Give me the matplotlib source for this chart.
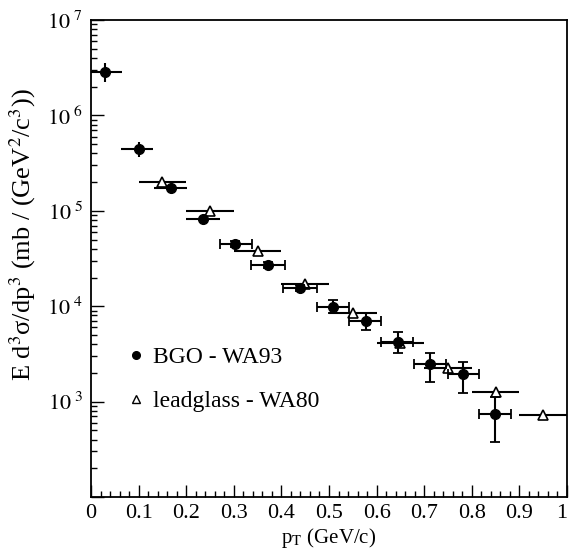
import math
import matplotlib
matplotlib.use('Agg')
import matplotlib.pyplot as plt
from matplotlib.ticker import MultipleLocator, LogLocator, FuncFormatter, NullFormatter
from matplotlib.lines import Line2D

plt.rcParams['font.family'] = ['Liberation Serif', 'DejaVu Serif']
plt.rcParams['mathtext.fontset'] = 'stix'

# BGO - WA93 (filled circles)
bgo_x = [0.03, 0.10, 0.167, 0.236, 0.303, 0.372, 0.44, 0.508, 0.578, 0.644, 0.712, 0.781, 0.849]
bgo_y = [2.85e6, 4.5e5, 1.75e5, 8.3e4, 4.5e4, 2.7e4, 1.57e4, 9.9e3, 7.0e3, 4.25e3, 2.45e3, 1.93e3, 7.4e2]
bgo_xlo = [0.0, 0.063, 0.132, 0.200, 0.270, 0.337, 0.404, 0.474, 0.541, 0.609, 0.679, 0.749, 0.815]
bgo_xhi = [0.065, 0.130, 0.202, 0.270, 0.339, 0.407, 0.474, 0.543, 0.610, 0.677, 0.746, 0.815, 0.882]
bgo_ylo = [2.24e6, 3.7e5, 1.62e5, 7.7e4, 4.2e4, 2.5e4, 1.46e4, 8.5e3, 5.6e3, 3.2e3, 1.62e3, 1.24e3, 374]
bgo_yhi = [3.55e6, 5.3e5, 1.89e5, 8.9e4, 4.8e4, 2.9e4, 1.68e4, 1.16e4, 8.4e3, 5.4e3, 3.2e3, 2.62e3, 1125]

# leadglass - WA80 (open triangles)
lg_x = [0.15, 0.25, 0.35, 0.45, 0.55, 0.65, 0.75, 0.85, 0.95]
lg_y = [2.0e5, 1.0e5, 3.8e4, 1.71e4, 8.5e3, 4.1e3, 2.25e3, 1.25e3, 7.2e2]
lg_xerr = [0.05, 0.05, 0.05, 0.05, 0.05, 0.05, 0.05, 0.05, 0.05]

fig = plt.figure(figsize=(5.71, 5.57), dpi=100)
ax = fig.add_axes([0.1594, 0.1077, 0.8336, 0.8563])

ax.errorbar(lg_x, lg_y, xerr=lg_xerr, fmt='^', mfc='white', mec='black', ms=7,
            mew=1.2, ecolor='black', elinewidth=1.5, capsize=0, zorder=2)

xerr = [[x - lo for x, lo in zip(bgo_x, bgo_xlo)], [hi - x for x, hi in zip(bgo_x, bgo_xhi)]]
yerr = [[y - lo for y, lo in zip(bgo_y, bgo_ylo)], [hi - y for y, hi in zip(bgo_y, bgo_yhi)]]
n = 4
ax.errorbar(bgo_x[:n], bgo_y[:n], xerr=[xerr[0][:n], xerr[1][:n]], yerr=[yerr[0][:n], yerr[1][:n]],
            fmt='o', color='black', ms=7, elinewidth=1.5, capsize=0, zorder=3)
ax.errorbar(bgo_x[n:], bgo_y[n:], xerr=[xerr[0][n:], xerr[1][n:]], yerr=[yerr[0][n:], yerr[1][n:]],
            fmt='o', color='black', ms=7, elinewidth=1.5, capsize=3.5, capthick=1.3, zorder=3)

ax.set_yscale('log')
ax.set_xlim(0, 1)
ax.set_ylim(1e2, 1e7)


def ylab(v, p):
    e = round(math.log10(v))
    if e < 3:
        return ''
    return r'$10^{\ %d}$' % e


ax.xaxis.set_major_locator(MultipleLocator(0.1))
ax.xaxis.set_minor_locator(MultipleLocator(0.02))
ax.xaxis.set_major_formatter(FuncFormatter(lambda v, p: '%g' % round(v, 1)))
ax.yaxis.set_major_locator(LogLocator(base=10, numticks=10))
ax.yaxis.set_minor_locator(LogLocator(base=10, subs=range(2, 10), numticks=20))
ax.yaxis.set_major_formatter(FuncFormatter(ylab))
ax.yaxis.set_minor_formatter(NullFormatter())

ax.tick_params(which='both', direction='in', top=False, right=False, width=1)
ax.tick_params(which='major', length=9)
ax.tick_params(which='minor', length=4.5)
ax.tick_params(axis='x', labelsize=16, pad=5)
ax.tick_params(axis='y', labelsize=16, pad=6)
for s in ax.spines.values():
    s.set_linewidth(1.3)

ax.set_xlabel(r'p$_{\rm T}$ (GeV/c)', fontsize=15, labelpad=2)
ax.set_ylabel(r'E d$^3$σ/dp$^3$ (mb / (GeV$^2$/c$^3$))', fontsize=19)
ax.yaxis.set_label_coords(-0.112, 0.551)

handles = [Line2D([], [], ls='none', marker='o', color='black', ms=5.5),
           Line2D([], [], ls='none', marker='^', mfc='white', mec='black', ms=5.5)]
ax.legend(handles, ['BGO - WA93', 'leadglass - WA80'], loc='upper left',
          bbox_to_anchor=(0.036, 0.36), frameon=False, fontsize=17,
          handlelength=0.6, handletextpad=0.4, labelspacing=0.95)

# keep the "1" at the right end inside the picture
fig.canvas.draw()
for lab in ax.get_xticklabels():
    if lab.get_text() == '1':
        lab.set_horizontalalignment('right')
        lab.set_x(1.006)

fig.savefig('out.png', dpi=100)
